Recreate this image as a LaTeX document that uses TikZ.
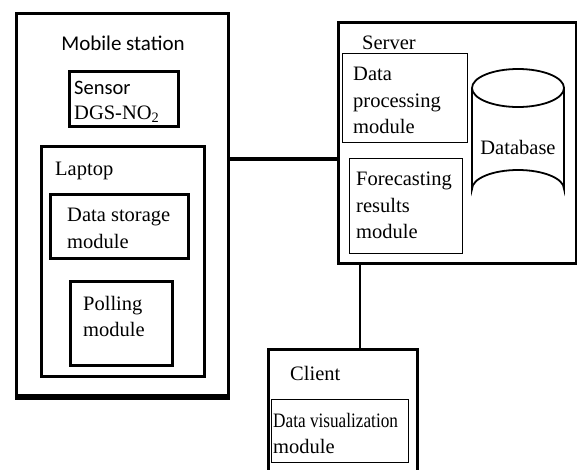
\documentclass[tikz,border=0pt]{standalone}
\usepackage{fontspec}
\setmainfont{Liberation Serif}
\newfontfamily\tnr{Liberation Serif}
\newfontfamily\calibri{Carlito}
\usetikzlibrary{positioning}

\tikzset{
	heavybox/.style={draw,line width=3pt,inner sep=0pt,anchor=north west},
	lightbox/.style={draw,line width=1.3pt,inner sep=0pt,anchor=north west},
	lbl/.style={inner sep=0pt,anchor=west,align=left,font=\tnr\fontsize{20.5}{26.5}\selectfont},
}

\begin{document}
\begin{tikzpicture}[x=1pt,y=-1pt]
	\useasboundingbox (0,0) rectangle (577,469);
	\clip (0,0) rectangle (577,469);
	% mobile station
	\node[heavybox,minimum width=212pt,minimum height=382pt] (mob) at (15,12) {};
	\draw[line width=5pt] (mob.south west) -- (mob.south east);
	\node[lbl,anchor=center,font=\calibri\fontsize{21}{26}\selectfont] (mobt) at (123,43) {Mobile station};
		\node[heavybox,line width=2.6pt,minimum width=109pt,minimum height=55pt] (sens) at (68,70) {};
		\node[lbl,font=\calibri\fontsize{20.5}{26}\selectfont] (senst) at (74,88) {Sensor};
		\node[lbl] (senst2) at (74,114) {DGS-NO\textsubscript{2}};
		\node[heavybox,line width=2.6pt,minimum width=163pt,minimum height=230pt] (lap) at (40,145) {};
		\node[lbl] (lapt) at (55,171) {Laptop};
		\node[heavybox,line width=2.6pt,minimum width=138pt,minimum height=64pt] (stor) at (49,193) {};
		\node[lbl] (stort) at (67,228.5) {Data storage\\module};
		\node[heavybox,line width=2.8pt,minimum width=102pt,minimum height=84pt] (poll) at (69,280) {};
		\node[lbl] (pollt) at (83,316.5) {Polling\\module};
	%
	\node[heavybox,minimum width=238pt,minimum height=241pt] (srv) at (337,21) {};
	\node[lbl] (srvt) at (362,43) {Server};
		\node[lightbox,minimum width=125pt,minimum height=89pt] (proc) at (342,53) {};
		\node[lbl] (proct) at (353,100.5) {Data\\processing\\module};
		\node[lightbox,minimum width=113pt,minimum height=95pt] (fore) at (349,158) {};
		\node[lbl] (foret) at (356,205.5) {Forecasting\\results\\module};
		\draw[line width=1.8pt] (518,88) ellipse [x radius=46, y radius=19];
		\draw[line width=1.8pt] (472,88) -- (472,189) arc [start angle=180, end angle=360, x radius=46, y radius=19] -- (564,88);
		\node[lbl,anchor=center] (db) at (518,147) {Database};
	%
	\node[heavybox,minimum width=149pt,minimum height=132pt] (cli) at (267,348) {};
	\node[lbl] (clit) at (290,373) {Client};
		\node[lightbox,minimum width=137pt,minimum height=63pt] (vis) at (271,399) {};
		\node[lbl] (vist) at (273,433.5) {\scalebox{0.84}[1]{Data visualization}\\module};
	% links
	\coordinate (lk) at (0,159);
	\draw[line width=4.5pt] (mob.east |- lk) -- (srv.west |- lk);
	\coordinate (ck) at (360,0);
	\draw[line width=1.3pt] (srv.south -| ck) -- (cli.north -| ck);
\end{tikzpicture}
\end{document}
